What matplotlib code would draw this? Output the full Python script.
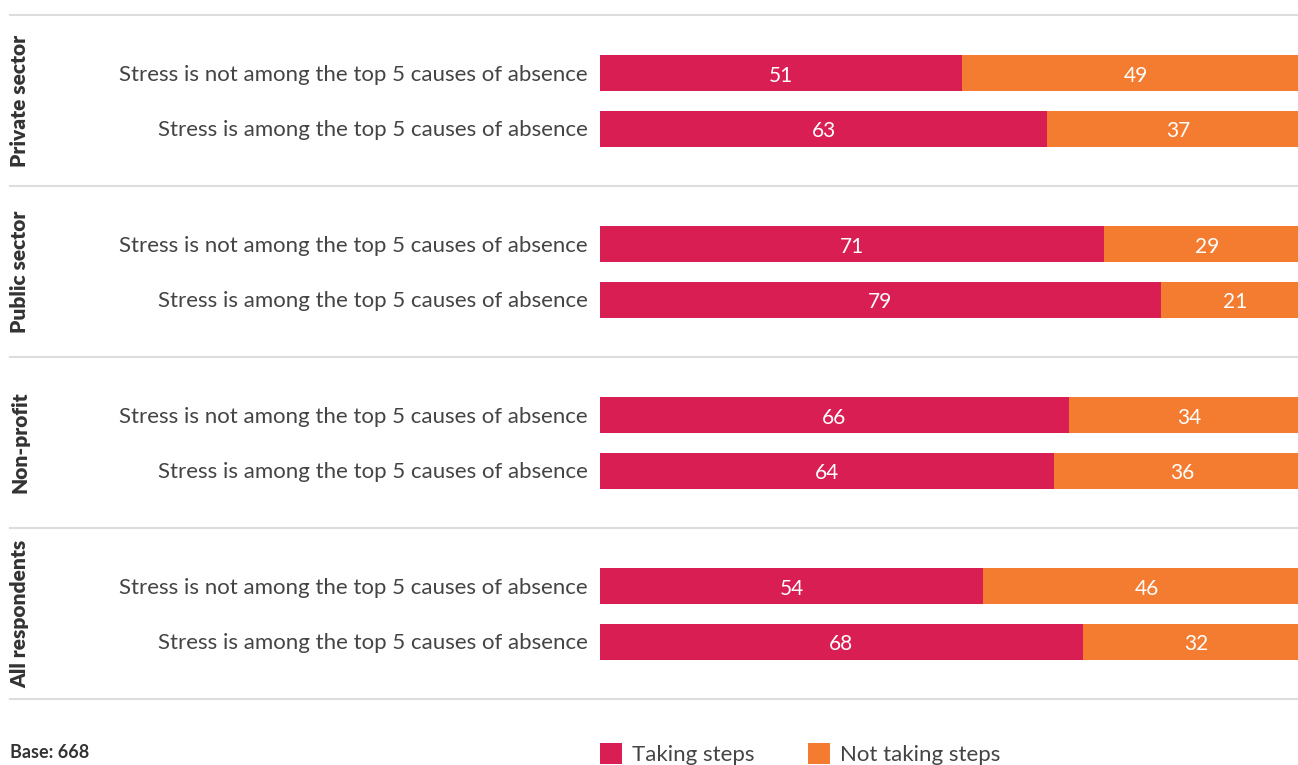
import matplotlib
matplotlib.use("Agg")
import matplotlib.pyplot as plt
import matplotlib.transforms as mtransforms
import numpy as np

groups = ["Private sector", "Public sector", "Non-profit", "All respondents"]
rows = ["Stress is not among the top 5 causes of absence",
        "Stress is among the top 5 causes of absence"]
taking = [[51, 63], [71, 79], [66, 64], [54, 68]]
not_taking = [[49, 37], [29, 21], [34, 36], [46, 32]]
series_names = ["Taking steps", "Not taking steps"]
base_text = "Base: 668"

PINK = "#D81E52"
ORANGE = "#F47C30"
TXT = "#444444"
GRID = "#DDDDDD"

plt.rcParams['font.family'] = ['Lato', 'DejaVu Sans']

W, H = 1298, 765
fig = plt.figure(figsize=(W / 100, H / 100), dpi=100)
ax = fig.add_axes([600 / W, 66 / H, 710 / W, 684 / H])
ax.set_xlim(0, 100)
ax.set_ylim(4, 0)
ax.axis("off")

offsets = [58 / 171, 113.5 / 171]
bh = 36 / 171
ys, t_vals, n_vals, labels = [], [], [], []
for gi, g in enumerate(groups):
    for ri, r in enumerate(rows):
        ys.append(gi + offsets[ri])
        t_vals.append(taking[gi][ri])
        n_vals.append(not_taking[gi][ri])
        labels.append(r)
ys = np.array(ys)
t_vals = np.array(t_vals)
n_vals = np.array(n_vals)

b1 = ax.barh(ys, t_vals, height=bh, color=PINK, label=series_names[0])
b2 = ax.barh(ys, n_vals, left=t_vals, height=bh, color=ORANGE, label=series_names[1])
anns = []
anns += ax.bar_label(b1, labels=[str(v) for v in t_vals], label_type="center",
                     color="white", fontsize=15)
anns += ax.bar_label(b2, labels=[str(v) for v in n_vals], label_type="center",
                     color="white", fontsize=15)
for a in anns:
    a.xyann = (0, -2)

lab_tr = mtransforms.blended_transform_factory(fig.transFigure, ax.transData)
for y, lab in zip(ys, labels):
    ax.text(588 / W, y + 0.01, lab, transform=lab_tr, ha="right", va="center",
            fontsize=16, color=TXT)

for gi, g in enumerate(groups):
    ax.text(20 / W, gi + 0.5, g, transform=lab_tr, rotation=90, ha="center",
            va="center", fontsize=15, fontweight="heavy", color="#333333")

for b in range(len(groups) + 1):
    ax.plot([10 / W, 1.0], [b, b], transform=lab_tr, color=GRID, lw=1.5,
            clip_on=False)

fig.text(10 / W, 12 / H, base_text, fontsize=13, fontweight="bold",
         color="#333333", ha="left", va="center")

leg = fig.legend(handles=[b1, b2], loc="center left",
                 bbox_to_anchor=(600 / W, 11 / H), ncol=2, frameon=False,
                 fontsize=16, handlelength=1.0, handleheight=1.1,
                 handletextpad=0.45, columnspacing=2.4, borderpad=0,
                 borderaxespad=0)
for t in leg.get_texts():
    t.set_color(TXT)

fig.savefig("out.png", dpi=100)
